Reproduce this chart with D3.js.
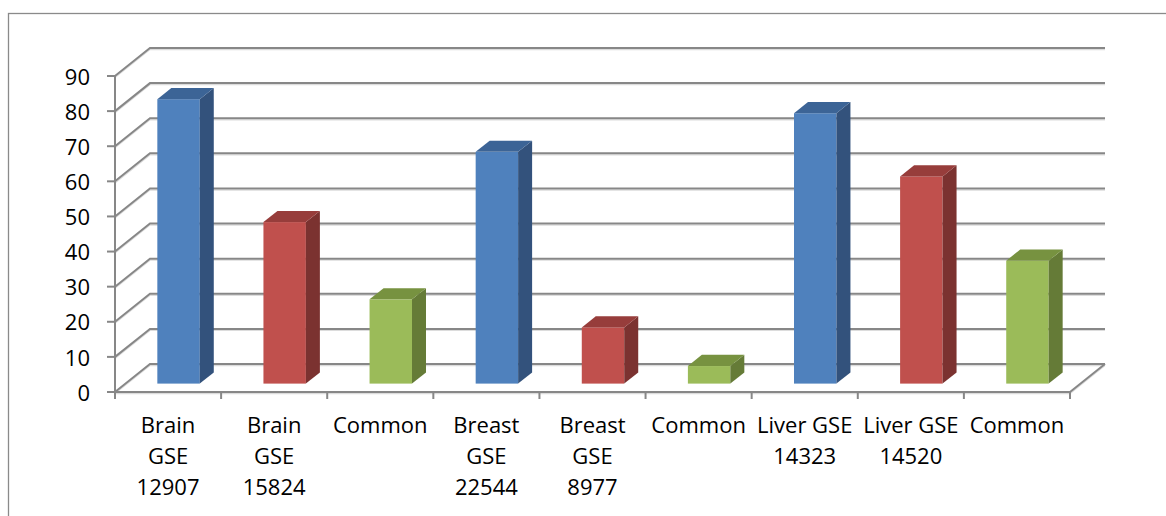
<!DOCTYPE html>
<html>
<head>
<meta charset="utf-8">
<script src="https://cdn.jsdelivr.net/npm/d3@7"></script>
<style>
  html, body { margin: 0; padding: 0; background: #fff; }
  svg { display: block; }
  text { font-family: "Open Sans", "Noto Sans", sans-serif; fill: #000; }
</style>
</head>
<body>
<svg id="chart" width="1166" height="516"></svg>
<script>
// Category labels (line breaks as drawn under the axis)
const categories = [
  "Brain\nGSE\n12907", "Brain\nGSE\n15824", "Common",
  "Breast\nGSE\n22544", "Breast\nGSE\n8977", "Common",
  "Liver GSE\n14323", "Liver GSE\n14520", "Common"
];
// Bar heights
const values = [81, 46, 24, 66, 16, 5, 77, 59, 35];
// Series group of each bar: 0 = dataset A, 1 = dataset B, 2 = common
const groups = [0, 1, 2, 0, 1, 2, 0, 1, 2];
const yTicks = [0, 10, 20, 30, 40, 50, 60, 70, 80, 90];

// Face colours per group: front, top, side
const palette = [
  { front: "#4f81bd", top: "#3c6496", side: "#33527c" },
  { front: "#c0504d", top: "#973d3b", side: "#7b3230" },
  { front: "#9bbb59", top: "#779240", side: "#657b37" }
];

const svg = d3.select("#chart");

// Plot box (front plane) and depth projection
const x0 = 115, x1 = 1070, yBottom = 392, yTop = 76;
const depth = { dx: 35, dy: -28 };           // full wall depth
const barDepth = [0.30, 0.70];                // bar front / back as fraction of depth

const x = d3.scaleBand().domain(d3.range(categories.length))
  .range([x0, x1]).paddingInner(0.6).paddingOuter(0.3);
const step = x.step();
const y = d3.scaleLinear().domain([0, 90]).range([yBottom, yTop]);

const proj = (px, py, f) => [px + depth.dx * f, py + depth.dy * f];

// Outer chart frame
svg.append("rect")
  .attr("x", 8.5).attr("y", 13.5).attr("width", 1300).attr("height", 600)
  .attr("fill", "none").attr("stroke", "#8a8a8a").attr("stroke-width", 1.3);

const gridColor = "#878787";
const grid = svg.append("g");

// Side-wall diagonals and back-wall gridlines
yTicks.forEach(t => {
  const [bx, by] = proj(x0, y(t), 1);
  // soft shadow under each line
  grid.append("path")
    .attr("d", `M${x0},${y(t) + 1.6}L${bx},${by + 1.6}L${x1 + depth.dx},${by + 1.6}`)
    .attr("fill", "none").attr("stroke", "#dcdcdc").attr("stroke-width", 1.2);
  grid.append("path")
    .attr("d", `M${x0},${y(t)}L${bx},${by}L${x1 + depth.dx},${by}`)
    .attr("fill", "none").attr("stroke", gridColor).attr("stroke-width", 2);
  // tick mark
  grid.append("line")
    .attr("x1", x0 - 8).attr("x2", x0).attr("y1", y(t)).attr("y2", y(t))
    .attr("stroke", gridColor).attr("stroke-width", 2);
});

// Vertical axis line
grid.append("line")
  .attr("x1", x0).attr("x2", x0).attr("y1", yTop).attr("y2", yBottom + 7)
  .attr("stroke", gridColor).attr("stroke-width", 2);

// Floor front edge and right diagonal
const [fx, fy] = proj(x1, yBottom, 1);
grid.append("path")
  .attr("d", `M${x0},${yBottom + 1.6}L${x1},${yBottom + 1.6}L${fx},${fy + 1.6}`)
  .attr("fill", "none").attr("stroke", "#dcdcdc").attr("stroke-width", 1.2);
grid.append("path")
  .attr("d", `M${x0},${yBottom}L${x1},${yBottom}L${fx},${fy}`)
  .attr("fill", "none").attr("stroke", gridColor).attr("stroke-width", 2);

// Category ticks on the floor edge
d3.range(categories.length + 1).forEach(i => {
  const tx = x0 + i * step;
  grid.append("line")
    .attr("x1", tx).attr("x2", tx).attr("y1", yBottom).attr("y2", yBottom + 7)
    .attr("stroke", gridColor).attr("stroke-width", 2);
});

// 3D columns
const bars = svg.append("g");
values.forEach((v, i) => {
  const c = palette[groups[i]];
  const w = x.bandwidth();
  const [lx, by0] = proj(x(i), y(0), barDepth[0]);
  const [, ty0] = proj(x(i), y(v), barDepth[0]);
  const dd = barDepth[1] - barDepth[0];
  const ox = depth.dx * dd, oy = depth.dy * dd;
  const rx = lx + w;

  // front face
  bars.append("rect")
    .attr("x", lx).attr("y", ty0).attr("width", w).attr("height", by0 - ty0)
    .attr("fill", c.front);
  // side face
  bars.append("path")
    .attr("d", `M${rx},${ty0}L${rx + ox},${ty0 + oy}L${rx + ox},${by0 + oy}L${rx},${by0}Z`)
    .attr("fill", c.side);
  // top face
  bars.append("path")
    .attr("d", `M${lx},${ty0}L${lx + ox},${ty0 + oy}L${rx + ox},${ty0 + oy}L${rx},${ty0}Z`)
    .attr("fill", c.top);
});

// Y axis labels
svg.append("g").selectAll("text").data(yTicks).join("text")
  .attr("x", 90).attr("y", d => y(d) + 1).attr("dy", "0.35em")
  .attr("text-anchor", "end").attr("font-size", 22)
  .text(d => d);

// Category labels
const labels = svg.append("g").selectAll("text").data(categories).join("text")
  .attr("text-anchor", "middle").attr("font-size", 22)
  .attr("transform", (d, i) => `translate(${x0 + (i + 0.5) * step},${433})`);
labels.selectAll("tspan").data(d => d.split("\n")).join("tspan")
  .attr("x", 0).attr("y", (d, j) => j * 31)
  .text(d => d);
</script>
</body>
</html>
